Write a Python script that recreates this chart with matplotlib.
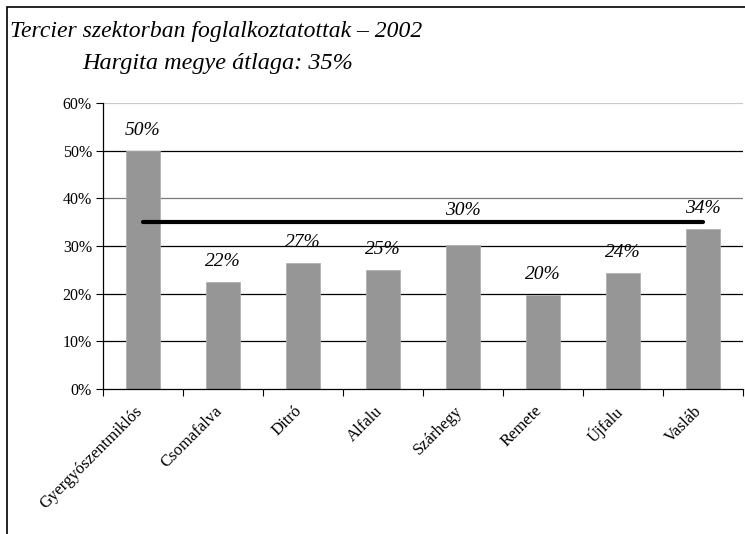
import numpy as np
import matplotlib.pyplot as plt
import matplotlib.transforms as mtransforms
from matplotlib.patches import Rectangle

# Data
telepulesek = ['Gyergyószentmiklós', 'Csomafalva', 'Ditró', 'Alfalu',
               'Szárhegy', 'Remete', 'Újfalu', 'Vasláb']
ertekek = [50.0, 22.5, 26.5, 25.0, 30.3, 19.7, 24.4, 33.6]
cimkek = ['50%', '22%', '27%', '25%', '30%', '20%', '24%', '34%']
megyei_atlag = 35.0
y_ticks = [0, 10, 20, 30, 40, 50, 60]

plt.rcParams['font.family'] = ['Liberation Serif', 'DejaVu Serif']

fig = plt.figure(figsize=(7.45, 5.34), dpi=100)
ax = fig.add_axes([103 / 745, 1 - 389 / 534, 640 / 745, 286 / 534])

x = np.arange(len(telepulesek))

# Gridlines (as in the original: mostly black, two lighter)
grid_cols = {10: 'black', 20: 'black', 30: 'black', 40: '#7a7a7a', 50: 'black', 60: '#c8c8c8'}
for yv, c in grid_cols.items():
    ax.axhline(yv, color=c, lw=0.9, zorder=1)

ax.bar(x, ertekek, width=0.43, color='#969696', edgecolor='#b0b0b0', lw=0.6, zorder=2)

# County average line
ax.plot([x[0], x[-1]], [megyei_atlag, megyei_atlag], color='black', lw=3,
        solid_capstyle='round', zorder=3)

# Value labels
for xi, v, lab in zip(x, ertekek, cimkek):
    off = 4.3 if lab != '30%' else 7.2
    ax.text(xi, v + off, lab, ha='center', va='center', fontsize=14,
            style='italic', zorder=4)

ax.set_xlim(-0.5, len(telepulesek) - 0.5)
ax.set_ylim(0, 60)
ax.set_yticks(y_ticks)
ax.set_yticklabels([f'{t}%' for t in y_ticks], fontsize=11.5)
ax.tick_params(axis='y', length=5, width=0.8, pad=3)

ax.set_xticks(x)
ax.set_xticklabels(telepulesek, rotation=45, ha='right', rotation_mode='anchor',
                   fontsize=12)
ax.tick_params(axis='x', which='major', length=0, pad=10)
shift = mtransforms.ScaledTranslation(-9 / 100, 0, fig.dpi_scale_trans)
for lbl in ax.get_xticklabels():
    lbl.set_transform(lbl.get_transform() + shift)
ax.set_xticks(np.arange(-0.5, len(telepulesek) + 0.5, 1), minor=True)
ax.tick_params(axis='x', which='minor', length=5, width=0.8, direction='out')

for s in ['top', 'right']:
    ax.spines[s].set_visible(False)
ax.spines['left'].set_linewidth(0.9)
ax.spines['bottom'].set_linewidth(0.9)

# Titles
fig.text(10 / 745, 1 - 31 / 534, 'Tercier szektorban foglalkoztatottak – 2002',
         fontsize=17, style='italic', va='center', ha='left')
fig.text(82 / 745, 1 - 63 / 534, 'Hargita megye átlaga: 35%',
         fontsize=17.5, style='italic', va='center', ha='left')

# Outer frame
fig.patches.append(Rectangle((7 / 745, -0.05), 1.0, 1 - 7 / 534 + 0.05,
                             transform=fig.transFigure, fill=False,
                             edgecolor='black', lw=1.2))

fig.savefig('out.png', dpi=100)
